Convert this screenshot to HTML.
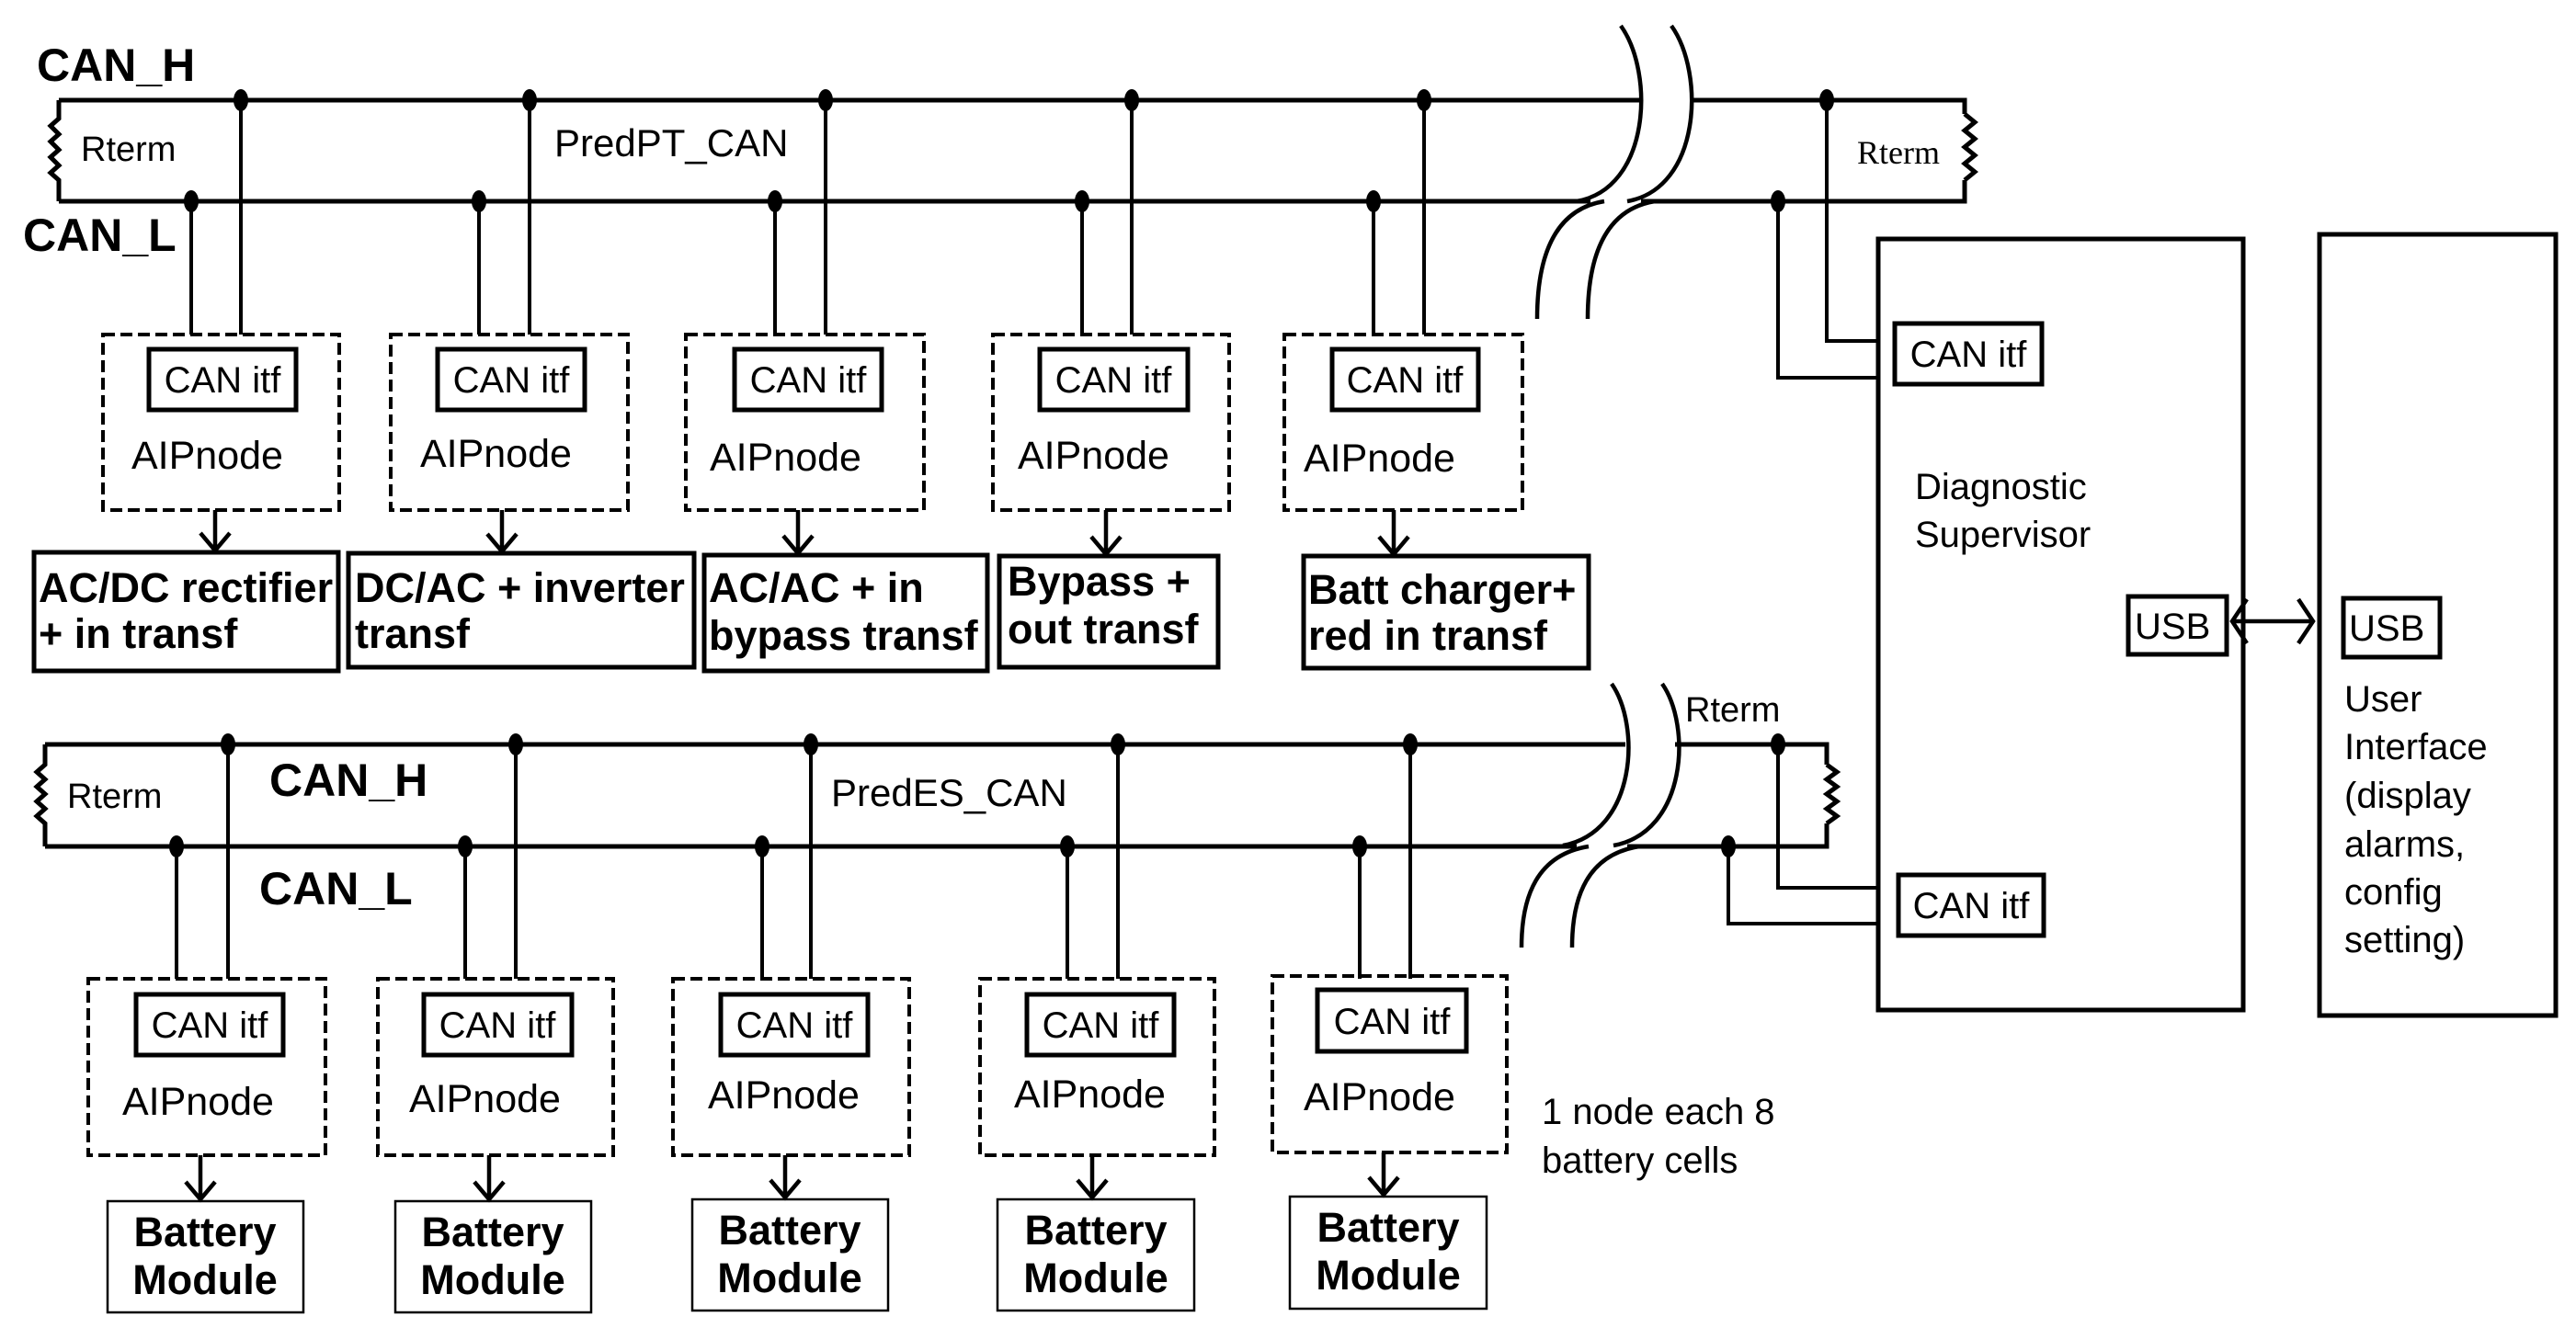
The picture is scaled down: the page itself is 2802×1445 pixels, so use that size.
<!DOCTYPE html>
<html><head><meta charset="utf-8"><style>
html,body{margin:0;padding:0;background:#fff;}
svg{display:block;}
text{font-family:"Liberation Sans",sans-serif;fill:#000;}
.b{font-weight:bold;}
</style></head><body>
<svg width="2802" height="1445" viewBox="0 0 2802 1445" xmlns="http://www.w3.org/2000/svg">
<g fill="none" stroke="#000">
<g stroke-width="5">
<path d="M64,109 L1783,109 M1838,109 L2137,109 L2137,124"/>
<path d="M64,219 L1730,219 M1785,219 L2137,219 L2137,196"/>
<path d="M64,109 L64,129 L55,137 L64,146 L55,154 L64,163 L55,171 L64,180 L55,188 L64,196 L64,219"/>
<path d="M2137,124 L2148,133 L2137,142 L2148,151 L2137,160 L2148,169 L2137,178 L2148,187 L2137,196"/>
</g>
<g stroke-width="4.5">
<path d="M1763,28 C1800,80 1795,205 1715,219"/>
<path d="M1745,219 C1690,228 1672,280 1672,347"/>
<path d="M1818,28 C1855,80 1850,205 1770,219"/>
<path d="M1800,219 C1745,228 1727,280 1727,347"/>
</g>
<g stroke-width="5">
<path d="M49,810 L1768,810 M1822,810 L1987,810 L1987,832"/>
<path d="M49,921 L1715,921 M1770,921 L1987,921 L1987,896"/>
<path d="M49,810 L49,832 L40,840 L49,848 L40,856 L49,864 L40,872 L49,880 L40,888 L49,896 L49,921"/>
<path d="M1987,832 L1998,840 L1987,848 L1998,856 L1987,864 L1998,872 L1987,880 L1998,888 L1987,896"/>
</g>
<g stroke-width="4.5">
<path d="M1753,744 C1785,790 1780,905 1700,920"/>
<path d="M1728,921 C1672,930 1655,975 1655,1031"/>
<path d="M1808,744 C1840,790 1835,905 1755,920"/>
<path d="M1783,921 C1727,930 1710,975 1710,1031"/>
</g>
<g stroke-width="4">
<path d="M262,109V364 M208,219V364 M576,109V364 M521,219V364 M898,109V364 M843,219V364 M1231,109V364 M1177,219V364 M1549,109V364 M1494,219V364"/>
<path d="M248,810V1065 M192,921V1065 M561,810V1065 M506,921V1065 M882,810V1065 M829,921V1065 M1216,810V1065 M1161,921V1065 M1534,810V1065 M1479,921V1065"/>
<path d="M1987,109V371H2043 M1934,219V411H2043"/>
<path d="M1934,810V966H2043 M1880,921V1005H2043"/>
</g>
<g stroke-width="4" stroke-dasharray="13,6">
<rect x="112" y="364" width="257" height="191"/>
<rect x="425" y="364" width="258" height="191"/>
<rect x="746" y="364" width="259" height="191"/>
<rect x="1080" y="364" width="257" height="191"/>
<rect x="1397" y="364" width="259" height="191"/>
<rect x="96" y="1065" width="258" height="192"/>
<rect x="411" y="1065" width="256" height="192"/>
<rect x="732" y="1065" width="257" height="192"/>
<rect x="1066" y="1065" width="255" height="192"/>
<rect x="1384" y="1062" width="255" height="192"/>
</g>
<g stroke-width="5">
<rect x="162" y="380" width="160" height="66"/>
<rect x="476" y="380" width="160" height="66"/>
<rect x="799" y="380" width="160" height="66"/>
<rect x="1131" y="380" width="161" height="66"/>
<rect x="1449" y="380" width="159" height="66"/>
<rect x="148" y="1082" width="160" height="66"/>
<rect x="461" y="1082" width="161" height="66"/>
<rect x="784" y="1082" width="160" height="66"/>
<rect x="1117" y="1082" width="160" height="66"/>
<rect x="1433" y="1077" width="162" height="67"/>
<rect x="2061" y="352" width="160" height="66"/>
<rect x="2065" y="952" width="158" height="66"/>
<rect x="37" y="601" width="331" height="129"/>
<rect x="379" y="602" width="376" height="124"/>
<rect x="766" y="604" width="308" height="126"/>
<rect x="1087" y="605" width="238" height="121"/>
<rect x="1418" y="605" width="310" height="122"/>
<rect x="2043" y="260" width="397" height="839"/>
<rect x="2523" y="255" width="257" height="850"/>
<rect x="2315" y="649" width="107" height="63"/>
<rect x="2549" y="651" width="105" height="64"/>
</g>
<g stroke-width="2.5">
<rect x="117" y="1307" width="213" height="121"/>
<rect x="430" y="1307" width="213" height="121"/>
<rect x="753" y="1305" width="213" height="121"/>
<rect x="1085" y="1305" width="214" height="121"/>
<rect x="1403" y="1302" width="214" height="122"/>
</g>
<g stroke-width="4.5">
<path d="M234,555V599 M218,580L234,599L250,580"/>
<path d="M546,555V600 M530,581L546,600L562,581"/>
<path d="M868,555V602 M852,583L868,602L884,583"/>
<path d="M1203,555V603 M1187,584L1203,603L1219,584"/>
<path d="M1516,555V603 M1500,584L1516,603L1532,584"/>
<path d="M218,1257V1305 M202,1286L218,1305L234,1286"/>
<path d="M532,1257V1305 M516,1286L532,1305L548,1286"/>
<path d="M854,1257V1303 M838,1284L854,1303L870,1284"/>
<path d="M1188,1257V1303 M1172,1284L1188,1303L1204,1284"/>
<path d="M1505,1254V1300 M1489,1281L1505,1300L1521,1281"/>
<path d="M2428,676H2516 M2444,652L2428,676L2444,700 M2500,652L2516,676L2500,700"/>
</g>
</g>
<g fill="#000">
<ellipse cx="262" cy="109" rx="8" ry="12"/><ellipse cx="208" cy="219" rx="8" ry="12"/>
<ellipse cx="576" cy="109" rx="8" ry="12"/><ellipse cx="521" cy="219" rx="8" ry="12"/>
<ellipse cx="898" cy="109" rx="8" ry="12"/><ellipse cx="843" cy="219" rx="8" ry="12"/>
<ellipse cx="1231" cy="109" rx="8" ry="12"/><ellipse cx="1177" cy="219" rx="8" ry="12"/>
<ellipse cx="1549" cy="109" rx="8" ry="12"/><ellipse cx="1494" cy="219" rx="8" ry="12"/>
<ellipse cx="1987" cy="109" rx="8" ry="12"/><ellipse cx="1934" cy="219" rx="8" ry="12"/>
<ellipse cx="248" cy="810" rx="8" ry="12"/><ellipse cx="192" cy="921" rx="8" ry="12"/>
<ellipse cx="561" cy="810" rx="8" ry="12"/><ellipse cx="506" cy="921" rx="8" ry="12"/>
<ellipse cx="882" cy="810" rx="8" ry="12"/><ellipse cx="829" cy="921" rx="8" ry="12"/>
<ellipse cx="1216" cy="810" rx="8" ry="12"/><ellipse cx="1161" cy="921" rx="8" ry="12"/>
<ellipse cx="1534" cy="810" rx="8" ry="12"/><ellipse cx="1479" cy="921" rx="8" ry="12"/>
<ellipse cx="1934" cy="810" rx="8" ry="12"/><ellipse cx="1880" cy="921" rx="8" ry="12"/>
</g>
<text x="40" y="88" class="b" font-size="50">CAN_H</text>
<text x="25" y="273" class="b" font-size="50">CAN_L</text>
<text x="88" y="175" font-size="38">Rterm</text>
<text x="603" y="170" font-size="42">PredPT_CAN</text>
<text x="2020" y="178" font-size="36" style="font-family:'Liberation Serif',serif">Rterm</text>
<text x="293" y="866" class="b" font-size="50">CAN_H</text>
<text x="282" y="984" class="b" font-size="50">CAN_L</text>
<text x="73" y="879" font-size="38">Rterm</text>
<text x="904" y="877" font-size="42">PredES_CAN</text>
<text x="1833" y="785" font-size="38">Rterm</text>
<g font-size="40" text-anchor="middle">
<text x="242" y="427">CAN itf</text><text x="556" y="427">CAN itf</text><text x="879" y="427">CAN itf</text><text x="1211" y="427">CAN itf</text><text x="1528" y="427">CAN itf</text>
<text x="228" y="1129">CAN itf</text><text x="541" y="1129">CAN itf</text><text x="864" y="1129">CAN itf</text><text x="1197" y="1129">CAN itf</text><text x="1514" y="1125">CAN itf</text>
<text x="2141" y="399">CAN itf</text><text x="2144" y="999">CAN itf</text>
</g>
<g font-size="43">
<text x="143" y="510">AIPnode</text><text x="457" y="508">AIPnode</text><text x="772" y="512">AIPnode</text><text x="1107" y="510">AIPnode</text><text x="1418" y="513">AIPnode</text>
<text x="133" y="1213">AIPnode</text><text x="445" y="1210">AIPnode</text><text x="770" y="1206">AIPnode</text><text x="1103" y="1205">AIPnode</text><text x="1418" y="1208">AIPnode</text>
</g>
<g class="b" font-size="45">
<text x="42" y="655">AC/DC rectifier</text><text x="42" y="705">+ in transf</text>
<text x="386" y="655">DC/AC + inverter</text><text x="386" y="705">transf</text>
<text x="771" y="655">AC/AC + in</text><text x="771" y="707">bypass transf</text>
<text x="1096" y="648">Bypass +</text><text x="1096" y="700">out transf</text>
<text x="1423" y="657">Batt charger+</text><text x="1423" y="707">red in transf</text>
</g>
<g class="b" font-size="45" text-anchor="middle">
<text x="223" y="1356">Battery</text><text x="223" y="1408">Module</text>
<text x="536" y="1356">Battery</text><text x="536" y="1408">Module</text>
<text x="859" y="1354">Battery</text><text x="859" y="1406">Module</text>
<text x="1192" y="1354">Battery</text><text x="1192" y="1406">Module</text>
<text x="1510" y="1351">Battery</text><text x="1510" y="1403">Module</text>
</g>
<g font-size="40">
<text x="2083" y="543">Diagnostic</text><text x="2083" y="595">Supervisor</text>
<text x="2322" y="695">USB</text><text x="2555" y="697">USB</text>
<text x="2550" y="774">User</text><text x="2550" y="826">Interface</text><text x="2550" y="879">(display</text>
<text x="2550" y="932">alarms,</text><text x="2550" y="984">config</text><text x="2550" y="1036">setting)</text>
<text x="1677" y="1223">1 node each 8</text><text x="1677" y="1276">battery cells</text>
</g>
</svg>
</body></html>
